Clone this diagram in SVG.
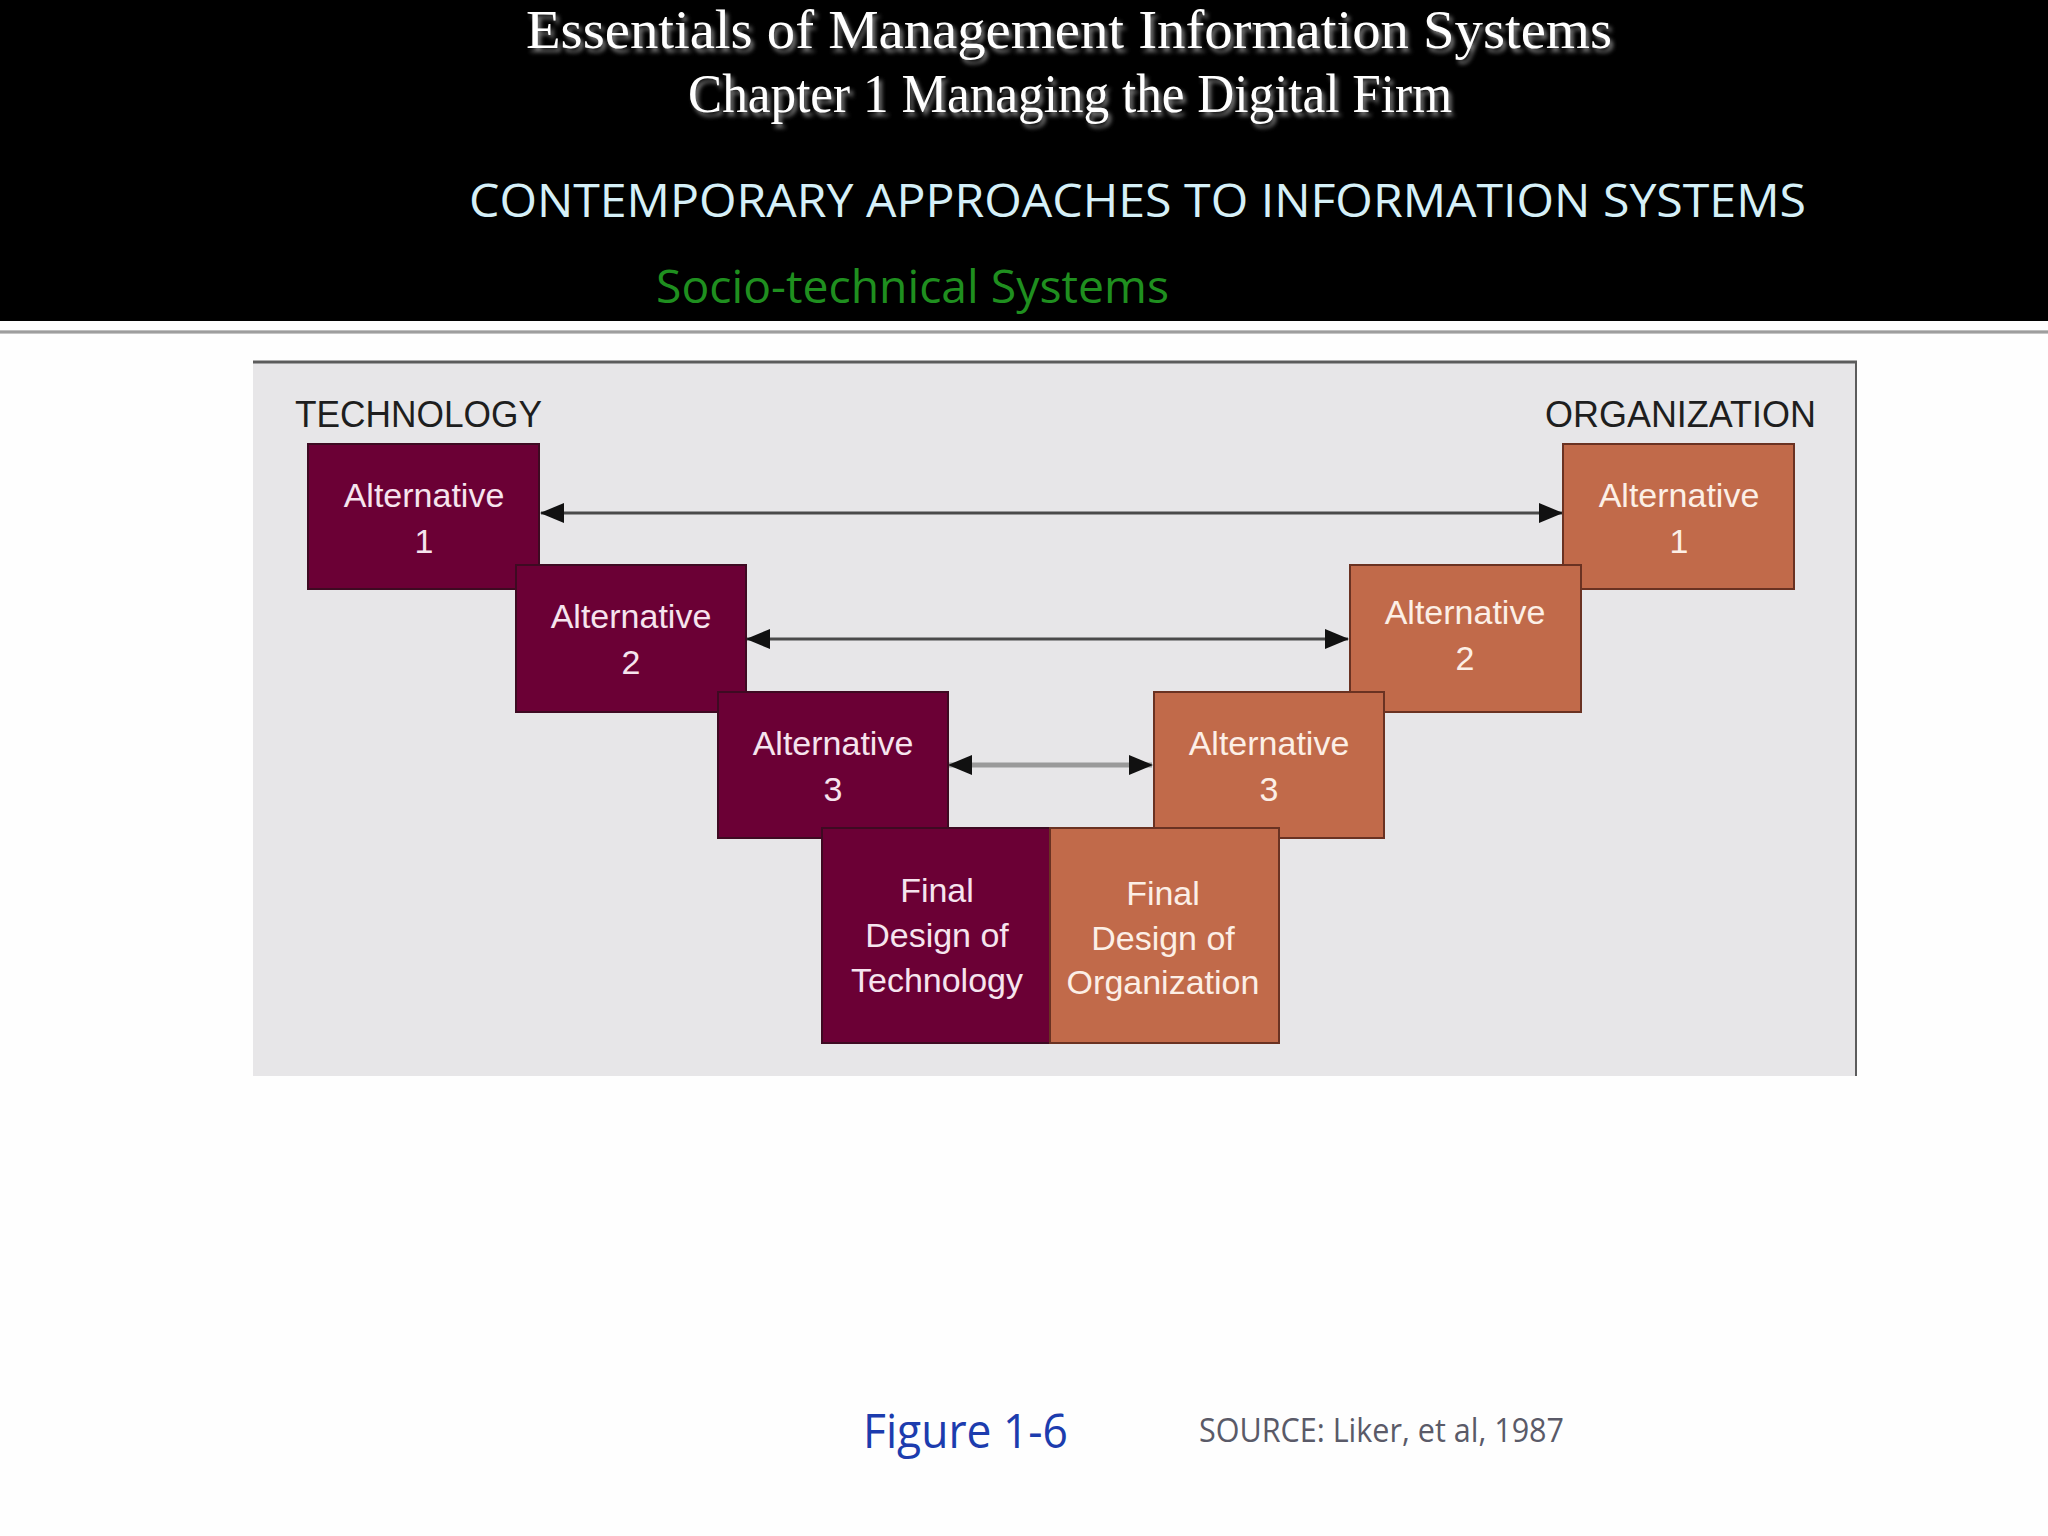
<svg xmlns="http://www.w3.org/2000/svg" width="2048" height="1536" viewBox="0 0 2048 1536">
  <defs>
    <filter id="shadow" x="-5%" y="-20%" width="110%" height="150%">
      <feDropShadow dx="3" dy="4" stdDeviation="2" flood-color="#8a8a8a" flood-opacity="0.9"/>
    </filter>
    <linearGradient id="rule" x1="0" y1="0" x2="0" y2="1">
      <stop offset="0" stop-color="#d0d0d0"/>
      <stop offset="0.5" stop-color="#8c8c8c"/>
      <stop offset="1" stop-color="#d8d8d8"/>
    </linearGradient>
    <marker id="head" markerUnits="userSpaceOnUse" markerWidth="24" markerHeight="20" refX="23" refY="10" orient="auto-start-reverse">
      <path d="M0,0 L24,10 L0,20 Z" fill="#111"/>
    </marker>
  </defs>
  <style>
    .title { font-family: "Liberation Serif", "Times New Roman", serif; fill: #ffffff; text-anchor: middle; }
    .sub { font-family: "Open Sans", "Noto Sans", sans-serif; }
    .head { font-family: "Liberation Sans", Arial, sans-serif; font-size: 36px; fill: #1e1e1e; }
    .tech { fill: #6b0035; stroke: #3e0a22; stroke-width: 2; }
    .org { fill: #c16a4a; stroke: #6a3222; stroke-width: 2; }
    .lbl { font-family: "Liberation Sans", Arial, sans-serif; font-size: 34px; text-anchor: middle; }
    .tl { fill: #f6e4ee; }
    .ol { fill: #fcefe6; }
    .conn { fill: none; stroke: #4a4a4a; stroke-width: 3; }
    .conn3 { fill: none; stroke: #9a9a9a; stroke-width: 5; }
    .cap { font-family: "Open Sans", "Noto Sans", sans-serif; }
  </style>

  <!-- slide background -->
  <rect x="0" y="0" width="2048" height="1536" fill="#fefefe"/>

  <!-- header -->
  <g id="header">
    <rect x="0" y="0" width="2048" height="321" fill="#000000"/>
    <rect x="0" y="330" width="2048" height="4" fill="url(#rule)"/>
    <text class="title" x="1069" y="48" font-size="54" textLength="1086" lengthAdjust="spacingAndGlyphs" filter="url(#shadow)">Essentials of Management Information Systems</text>
    <text class="title" x="1070" y="112" font-size="54" textLength="764" lengthAdjust="spacingAndGlyphs" filter="url(#shadow)">Chapter 1 Managing the Digital Firm</text>
    <text class="sub" x="469" y="217" font-size="46" fill="#d6f0f8" textLength="1337" lengthAdjust="spacingAndGlyphs">CONTEMPORARY APPROACHES TO INFORMATION SYSTEMS</text>
    <text class="sub" x="656" y="303" font-size="45" fill="#1f8f1f" textLength="513" lengthAdjust="spacingAndGlyphs">Socio-technical Systems</text>
  </g>

  <!-- figure panel -->
  <g id="panel">
    <rect x="253" y="361" width="1603" height="715" fill="#e7e6e8"/>
    <line x1="253" y1="362" x2="1857" y2="362" stroke="#5c5c5c" stroke-width="3"/>
    <line x1="1856" y1="361" x2="1856" y2="1076" stroke="#5c5c5c" stroke-width="2"/>
    <text class="head" x="295" y="427" textLength="247" lengthAdjust="spacingAndGlyphs">TECHNOLOGY</text>
    <text class="head" x="1545" y="427" textLength="271" lengthAdjust="spacingAndGlyphs">ORGANIZATION</text>
  </g>

  <!-- connectors -->
  <g id="connectors">
    <line class="conn" x1="541" y1="513" x2="1562" y2="513" marker-start="url(#head)" marker-end="url(#head)"/>
    <line class="conn" x1="747" y1="639" x2="1348" y2="639" marker-start="url(#head)" marker-end="url(#head)"/>
    <line class="conn3" x1="949" y1="765" x2="1152" y2="765" marker-start="url(#head)" marker-end="url(#head)"/>
  </g>

  <!-- technology side -->
  <g id="tech-alt1">
    <rect class="tech" x="308" y="444" width="231" height="145"/>
    <text class="lbl tl" x="424" y="507">Alternative</text>
    <text class="lbl tl" x="424" y="553">1</text>
  </g>
  <g id="tech-alt2">
    <rect class="tech" x="516" y="565" width="230" height="147"/>
    <text class="lbl tl" x="631" y="628">Alternative</text>
    <text class="lbl tl" x="631" y="674">2</text>
  </g>
  <g id="tech-alt3">
    <rect class="tech" x="718" y="692" width="230" height="146"/>
    <text class="lbl tl" x="833" y="755">Alternative</text>
    <text class="lbl tl" x="833" y="801">3</text>
  </g>

  <!-- organization side -->
  <g id="org-alt1">
    <rect class="org" x="1563" y="444" width="231" height="145"/>
    <text class="lbl ol" x="1679" y="507">Alternative</text>
    <text class="lbl ol" x="1679" y="553">1</text>
  </g>
  <g id="org-alt2">
    <rect class="org" x="1350" y="565" width="231" height="147"/>
    <text class="lbl ol" x="1465" y="624">Alternative</text>
    <text class="lbl ol" x="1465" y="670">2</text>
  </g>
  <g id="org-alt3">
    <rect class="org" x="1154" y="692" width="230" height="146"/>
    <text class="lbl ol" x="1269" y="755">Alternative</text>
    <text class="lbl ol" x="1269" y="801">3</text>
  </g>

  <!-- final designs -->
  <g id="final-tech">
    <rect class="tech" x="822" y="828" width="228" height="215"/>
    <text class="lbl tl" x="937" y="902">Final</text>
    <text class="lbl tl" x="937" y="947">Design of</text>
    <text class="lbl tl" x="937" y="992">Technology</text>
  </g>
  <g id="final-org">
    <rect class="org" x="1050" y="828" width="229" height="215"/>
    <text class="lbl ol" x="1163" y="905">Final</text>
    <text class="lbl ol" x="1163" y="950">Design of</text>
    <text class="lbl ol" x="1163" y="994">Organization</text>
  </g>

  <!-- caption -->
  <g id="caption">
    <text class="cap" x="863" y="1448" font-size="47" fill="#1c3cae" textLength="205" lengthAdjust="spacingAndGlyphs">Figure 1-6</text>
    <text class="cap" x="1199" y="1442" font-size="32" fill="#5a5a68" textLength="365" lengthAdjust="spacingAndGlyphs">SOURCE: Liker, et al, 1987</text>
  </g>
</svg>
